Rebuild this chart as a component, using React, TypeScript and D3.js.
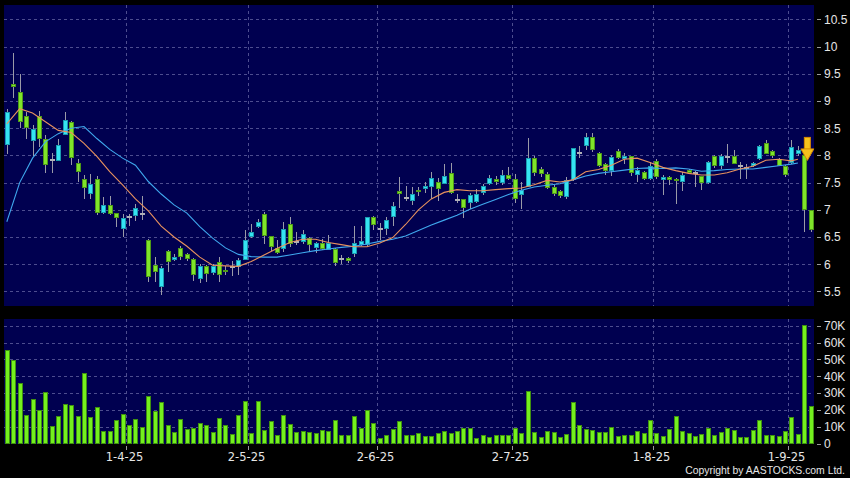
import React from "react";
import * as d3 from "d3";

// ---------- data ----------
const openP = [8.20,9.32,9.17,8.72,8.27,8.72,8.30,7.93,7.91,8.38,
8.61,7.86,7.56,7.30,7.56,6.94,7.09,6.94,6.65,6.89,
6.88,6.95,6.45,5.98,5.58,6.25,6.08,6.30,6.19,6.10,
5.73,5.96,5.85,6.04,5.90,5.97,5.96,6.08,6.50,6.68,
6.93,6.51,6.30,6.28,6.73,6.43,6.40,6.49,6.30,6.39,
6.27,6.28,6.12,6.12,6.18,6.36,6.35,6.87,6.67,6.64,
6.86,7.35,7.24,7.17,7.36,7.37,7.43,7.51,7.48,7.67,
7.20,7.19,7.12,7.14,7.30,7.47,7.56,7.50,7.64,7.56,
7.27,7.42,7.95,7.75,7.66,7.41,7.35,7.24,7.55,8.06,
8.16,8.33,8.05,7.84,7.72,8.09,7.92,7.98,7.64,7.70,
7.58,7.90,7.55,7.61,7.56,7.52,7.73,7.70,7.62,7.49,
7.98,7.79,7.98,7.99,7.82,7.79,7.80,7.94,8.23,8.08,
7.94,7.80,7.86,8.02,8.00,6.99];
const closeP = [8.80,9.26,8.62,8.50,8.49,8.30,7.83,7.93,8.20,8.65,
7.94,7.70,7.40,7.48,6.94,7.09,6.93,6.85,6.85,6.89,
7.03,6.95,5.77,5.85,5.93,6.05,6.14,6.14,6.10,5.81,
5.97,5.82,5.97,5.81,5.88,5.97,6.08,6.45,6.60,6.77,
6.53,6.30,6.21,6.65,6.36,6.43,6.55,6.36,6.39,6.28,
6.39,6.02,6.12,6.07,6.39,6.43,6.86,6.73,6.67,6.81,
7.07,7.29,7.24,7.29,7.32,7.43,7.59,7.39,7.62,7.31,
7.20,7.02,7.27,7.29,7.43,7.58,7.50,7.64,7.56,7.19,
7.37,7.95,7.68,7.66,7.41,7.29,7.26,7.55,8.13,8.06,
8.33,8.09,7.81,7.71,7.97,7.96,7.98,7.66,7.73,7.58,
7.81,7.60,7.61,7.56,7.52,7.64,7.68,7.70,7.49,7.87,
7.79,7.98,7.98,7.85,7.82,7.79,7.86,8.18,8.03,7.98,
7.82,7.63,8.15,8.10,6.99,6.63];
const highP = [8.85,9.88,9.50,8.80,8.56,8.82,8.38,8.04,8.30,8.79,
8.63,7.94,7.64,7.65,7.62,7.23,7.25,6.95,6.93,6.92,
7.10,7.25,6.46,6.13,5.96,6.27,6.18,6.34,6.21,6.12,
6.00,5.98,6.00,6.13,5.97,6.06,6.12,6.62,6.73,6.83,
6.96,6.52,6.44,6.78,6.87,6.59,6.62,6.50,6.41,6.47,
6.53,6.29,6.16,6.13,6.71,6.70,6.87,6.88,6.76,6.87,
7.15,7.60,7.43,7.42,7.42,7.51,7.70,7.58,7.84,7.86,
7.29,7.20,7.30,7.39,7.47,7.64,7.62,7.73,7.78,7.66,
7.51,8.32,7.99,7.78,7.70,7.45,7.37,7.60,8.14,8.18,
8.42,8.42,8.07,7.86,8.00,8.12,8.05,7.99,7.78,7.72,
7.87,7.94,7.64,7.63,7.58,7.70,7.75,7.72,7.63,7.89,
8.00,8.02,8.21,8.10,7.88,7.85,7.88,8.20,8.28,8.10,
7.95,7.82,8.28,8.18,8.00,6.99];
const lowP = [8.02,9.05,8.50,8.30,7.98,8.16,7.67,7.67,7.91,8.37,
7.82,7.51,7.20,7.20,6.91,6.93,6.90,6.68,6.50,6.70,
6.80,6.82,5.68,5.68,5.43,5.85,6.05,6.07,6.05,5.70,
5.65,5.67,5.81,5.68,5.80,5.79,5.81,6.07,6.49,6.66,
6.37,6.25,6.19,6.22,6.31,6.36,6.38,6.22,6.20,6.27,
6.26,5.96,6.00,6.02,6.13,6.34,6.33,6.62,6.44,6.53,
6.70,7.04,7.17,7.08,7.25,7.30,7.20,7.17,7.47,7.29,
7.12,6.85,7.02,7.12,7.28,7.45,7.45,7.46,7.55,7.12,
7.02,7.41,7.62,7.61,7.38,7.25,7.22,7.20,7.53,7.95,
8.10,8.07,7.78,7.64,7.62,7.93,7.85,7.62,7.52,7.55,
7.55,7.57,7.28,7.45,7.11,7.35,7.65,7.42,7.37,7.47,
7.76,7.75,7.86,7.84,7.57,7.57,7.78,7.92,8.02,7.96,
7.80,7.60,7.84,7.99,6.60,6.60];
// volume in thousands
const volumeK = [55.4,49.9,36.0,17.0,26.7,20.2,30.5,10.5,16.4,23.6,
22.8,16.2,42.2,15.6,21.4,7.7,7.5,13.9,17.8,10.9,
14.7,9.9,28.1,19.4,24.9,10.7,6.9,14.5,8.9,9.1,
11.9,10.7,6.7,15.2,10.9,5.5,17.2,25.1,6.5,25.1,
7.9,13.3,5.3,17.0,11.5,6.7,7.5,6.7,6.5,8.3,
7.5,13.7,4.9,4.9,16.2,9.5,19.8,11.9,3.0,5.3,
8.5,13.3,4.9,4.9,6.0,4.4,4.4,6.3,7.7,6.5,
7.3,9.1,9.3,3.4,5.3,3.6,5.1,5.1,5.3,9.5,
6.5,31.0,6.7,3.6,7.5,6.7,3.6,5.5,24.8,10.7,
8.7,7.9,6.7,6.7,10.1,4.6,4.8,5.3,7.3,6.3,
13.7,6.3,4.2,8.5,16.6,7.7,6.5,4.2,5.7,9.1,
5.3,6.9,9.1,7.9,3.8,3.8,7.9,13.7,5.1,5.3,
4.2,7.3,16.0,5.9,70.3,22.2];
// moving averages, at these candle indices
const maIdx = [0,2,4,6,8,10,12,14,16,18,20,22,24,26,28,30,32,34,36,38,40,42,44,46,48,50,52,54,56,58,60,62,64,66,68,70,72,74,76,78,80,82,84,86,88,90,92,94,96,98,100,102,104,106,108,110,112,114,116,118,120,122,123];
const ma10 = [8.58,8.86,8.78,8.62,8.46,8.42,8.22,7.98,7.70,7.46,7.20,6.98,6.70,6.50,6.33,6.13,5.98,5.97,5.96,6.05,6.17,6.29,6.40,6.46,6.46,6.40,6.36,6.32,6.32,6.39,6.49,6.73,7.00,7.20,7.32,7.37,7.35,7.35,7.37,7.39,7.40,7.46,7.54,7.51,7.55,7.70,7.74,7.82,7.93,7.95,7.87,7.78,7.72,7.67,7.64,7.64,7.68,7.75,7.80,7.91,7.93,7.90,7.93];
const ma20 = [6.78,7.50,7.95,8.25,8.40,8.50,8.53,8.31,8.11,7.95,7.82,7.52,7.29,7.09,6.94,6.69,6.48,6.30,6.18,6.14,6.13,6.13,6.17,6.21,6.25,6.28,6.31,6.33,6.37,6.42,6.46,6.52,6.62,6.72,6.81,6.90,7.01,7.10,7.19,7.28,7.36,7.42,7.45,7.48,7.55,7.62,7.67,7.70,7.73,7.76,7.77,7.76,7.77,7.75,7.71,7.72,7.74,7.75,7.75,7.78,7.81,7.84,7.86];
const dateIdx = [19, 38, 58, 79, 101, 122];
const dateLabels = ["1-4-25", "2-5-25", "2-6-25", "2-7-25", "1-8-25", "1-9-25"];
const priceTicks = [5.5, 6, 6.5, 7, 7.5, 8, 8.5, 9, 9.5, 10, 10.5];
const volTicks = [0, 10, 20, 30, 40, 50, 60, 70];
const signalIdx = 124;

// ---------- layout ----------
const W = 850, H = 478;
const L = 4, R = 814;
const PT = 5, PB = 306;
const VT = 319, VB = 444;

const GRID = "#4d4d8f";
const BG = "#000050";
const UP_FILL = "#35e3f2", UP_STROKE = "#1a9cb0";
const DN_FILL = "#7fe52a", DN_STROKE = "#4e9a18";

export default function App() {
  const n = openP.length;
  const xb = d3.scaleBand<number>().domain(d3.range(n)).range([3.6, R]).padding(0);
  const step = xb.step();
  const cx = (i: number) => (xb(i) as number) + step / 2;
  const yP = d3.scaleLinear().domain([5.5, 10.5]).range([291.4, 19.4]);
  const yV = d3.scaleLinear().domain([0, 74]).range([443.5, VT]);
  const bw = 5;

  const maLine = d3.line<number>().x((_, k) => cx(maIdx[k])).y((d) => yP(d));
  const priceFmt = (t: number) => (Number.isInteger(t) ? String(t) : t.toFixed(1));

  const arrowX = cx(signalIdx) + 3;
  const tipY = yP(highP[signalIdx]) + 5;

  return (
    <svg width={W} height={H} style={{ position: "absolute", left: 0, top: 0 }}>
      <rect x={0} y={0} width={W} height={H} fill="#000" />
      {/* panels */}
      <rect x={L} y={PT} width={R - L} height={PB - PT} fill={BG} />
      <rect x={L} y={VT} width={R - L} height={VB - VT} fill={BG} />

      {/* grid */}
      <g stroke={GRID} strokeWidth={1} strokeDasharray="3,3" shapeRendering="crispEdges">
        {priceTicks.map((t) => (
          <line key={"pg" + t} x1={L} x2={R} y1={Math.round(yP(t)) + 0.5} y2={Math.round(yP(t)) + 0.5} />
        ))}
        {volTicks.filter((t) => t > 0).map((t) => (
          <line key={"vg" + t} x1={L} x2={R} y1={Math.round(yV(t)) + 0.5} y2={Math.round(yV(t)) + 0.5} />
        ))}
        {dateIdx.map((i) => {
          const x = Math.round(xb(i) as number) + 0.5;
          return (
            <g key={"dg" + i}>
              <line x1={x} x2={x} y1={PT} y2={PB} />
              <line x1={x} x2={x} y1={VT} y2={VB} />
            </g>
          );
        })}
      </g>

      {/* candles */}
      <g shapeRendering="crispEdges">
        {openP.map((o, i) => {
          const c = closeP[i];
          const x = cx(i);
          const xr = Math.round(x);
          const up = c > o;
          const doji = c === o;
          const yTop = yP(Math.max(o, c));
          const yBot = yP(Math.min(o, c));
          return (
            <g key={"c" + i}>
              <line x1={xr + 0.5} x2={xr + 0.5} y1={yP(highP[i])} y2={yP(lowP[i])} stroke="#9a9aa8" strokeWidth={1} />
              {doji ? (
                <line x1={xr - 2} x2={xr + 3} y1={Math.round(yTop) + 0.5} y2={Math.round(yTop) + 0.5} stroke="#b0b0b8" strokeWidth={2} />
              ) : (
                <rect
                  x={xr - 2 + 0.5}
                  y={Math.round(yTop) + 0.5}
                  width={bw - 1}
                  height={Math.max(1, Math.round(yBot - yTop) - 1)}
                  fill={up ? UP_FILL : DN_FILL}
                  stroke={up ? UP_STROKE : DN_STROKE}
                  strokeWidth={1}
                />
              )}
            </g>
          );
        })}
      </g>

      {/* moving averages */}
      <path d={maLine(ma20) || ""} fill="none" stroke="#3fa8ee" strokeWidth={1.1} />
      <path d={maLine(ma10) || ""} fill="none" stroke="#e8925e" strokeWidth={1.1} />

      {/* signal arrow */}
      <g>
        <rect x={arrowX - 3} y={tipY - 23} width={6} height={12} fill="#f6c21c" stroke="#d88a00" strokeWidth={1} />
        <path
          d={`M${arrowX - 6.5},${tipY - 11.5} L${arrowX + 6.5},${tipY - 11.5} L${arrowX},${tipY} Z`}
          fill="#f6c21c"
          stroke="#d88a00"
          strokeWidth={1}
        />
      </g>

      {/* volume */}
      <g shapeRendering="crispEdges">
        {volumeK.map((v, i) => {
          const xr = Math.round(cx(i));
          const y0 = Math.round(yV(v));
          const yb = Math.round(yV(0));
          return (
            <rect
              key={"v" + i}
              x={xr - 2 + 0.5}
              y={y0 + 0.5}
              width={bw - 1}
              height={Math.max(1, yb - y0 - 1)}
              fill="#74f01e"
              stroke="#3f9010"
              strokeWidth={1}
            />
          );
        })}
      </g>

      {/* right axis: price */}
      <g fontFamily="'Liberation Sans', Arial, sans-serif" fontSize={12} fill="#e6e6e6">
        {priceTicks.map((t) => (
          <g key={"pt" + t}>
            <line x1={817} x2={821} y1={Math.round(yP(t)) + 0.5} y2={Math.round(yP(t)) + 0.5} stroke="#9a9a9a" />
            <text x={824} y={yP(t)} dy="0.36em">{priceFmt(t)}</text>
          </g>
        ))}
        {volTicks.map((t) => (
          <g key={"vt" + t}>
            <line x1={817} x2={821} y1={Math.round(yV(t)) + 0.5} y2={Math.round(yV(t)) + 0.5} stroke="#9a9a9a" />
            <text x={824} y={yV(t)} dy="0.36em">{t === 0 ? "0" : t + "K"}</text>
          </g>
        ))}
      </g>

      {/* bottom axis: dates */}
      <g fontFamily="'DejaVu Sans', Verdana, sans-serif" fontSize={11.5} fill="#e6e6e6">
        {dateIdx.map((i, k) => {
          const x = Math.round(xb(i) as number) + 0.5;
          return (
            <g key={"dl" + i}>
              <line x1={x} x2={x} y1={446} y2={450} stroke="#9a9a9a" />
              <text x={x - 2} y={461} textAnchor="middle">{dateLabels[k]}</text>
            </g>
          );
        })}
      </g>

      <text
        x={845}
        y={474}
        textAnchor="end"
        fontFamily="'Liberation Sans', Arial, sans-serif"
        fontSize={10.4}
        fill="#e6e6e6"
      >
        Copyright by AASTOCKS.com Ltd.
      </text>
    </svg>
  );
}
